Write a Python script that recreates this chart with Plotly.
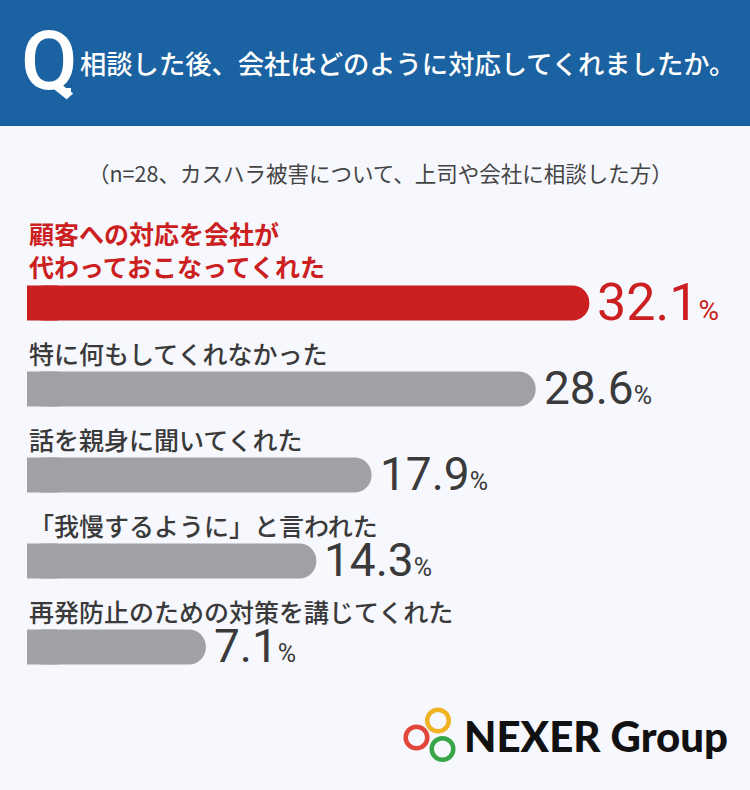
import plotly.graph_objects as go

# answers to "相談した後、会社はどのように対応してくれましたか。" (n=28)
answers = [
    "顧客への対応を会社が<br>代わっておこなってくれた",
    "特に何もしてくれなかった",
    "話を親身に聞いてくれた",
    "「我慢するように」と言われた",
    "再発防止のための対策を講じてくれた",
]
shares = [32.1, 28.6, 17.9, 14.3, 7.1]

title = "相談した後、会社はどのように対応してくれましたか。"
subtitle = "（n=28、カスハラ被害について、上司や会社に相談した方）"
logo_text = "NEXER Group"

RED = "#cc1f21"
GREY_BAR = "#a0a1a5"
GREY_TEXT = "#3a3a3a"
BLUE = "#1a62a1"
BG = "#f6f8fd"

W, H = 750, 790
L, R, T, B = 27, 0, 260, 87
PW, PH = W - L - R, H - T - B

# bars in the source don't start at zero, the axis is offset a bit
BAR_BASE = -4.56
X_MAX = BAR_BASE + PW / 15.34


def px_x(p):
    return (p - L) / PW


def px_y(p):
    return (H - B - p) / PH


bar_colors = [RED] + [GREY_BAR] * (len(shares) - 1)
text_colors = [RED] + [GREY_TEXT] * (len(shares) - 1)

fig = go.Figure()
# full bars from the offset start to the value (plotly rounds both ends when base is set)
fig.add_trace(go.Bar(
    x=[v - BAR_BASE for v in shares],
    base=BAR_BASE,
    y=answers,
    orientation="h",
    marker=dict(color=bar_colors, cornerradius=18, line=dict(width=0)),
    hoverinfo="skip",
))
# square stub on top to hide the rounding on the left end
fig.add_trace(go.Bar(
    x=[2] * len(shares),
    base=BAR_BASE,
    y=answers,
    orientation="h",
    marker=dict(color=bar_colors, line=dict(width=0)),
    hoverinfo="skip",
))

annotations = []
for i, (a, v) in enumerate(zip(answers, shares)):
    big = 52 if i == 0 else 46
    small = 28 if i == 0 else 25
    annotations.append(dict(
        x=v, y=a, xref="x", yref="y", xanchor="left", yanchor="middle",
        xshift=6, yshift=1, showarrow=False,
        text=f"{v}<span style='font-size:{small}px'>%</span>",
        font=dict(family="Roboto", size=big, color=text_colors[i]),
    ))
    annotations.append(dict(
        x=BAR_BASE, y=a, xref="x", yref="y", xanchor="left", yanchor="middle",
        yshift=54 if i == 0 else 36, showarrow=False, align="left",
        text=a,
        font=dict(family="Noto Sans CJK JP", size=25, color=text_colors[i],
                  weight="bold" if i == 0 else 500),
    ))

# header
annotations.append(dict(
    x=px_x(19), y=px_y(61), xref="paper", yref="paper", xanchor="left", yanchor="middle",
    showarrow=False, text="Q",
    font=dict(family="Roboto", size=82, color="white", weight=500),
))
annotations.append(dict(
    x=px_x(78), y=px_y(63), xref="paper", yref="paper", xanchor="left", yanchor="middle",
    showarrow=False, text=title,
    font=dict(family="Noto Sans CJK JP", size=26.3, color="white", weight=500),
))
annotations.append(dict(
    x=px_x(380), y=px_y(172), xref="paper", yref="paper", xanchor="center", yanchor="middle",
    showarrow=False, text=subtitle,
    font=dict(family="Noto Sans CJK JP", size=21.5, color="#444444"),
))
annotations.append(dict(
    x=px_x(462), y=px_y(736), xref="paper", yref="paper", xanchor="left", yanchor="middle",
    showarrow=False, text=logo_text,
    font=dict(family="Lato", size=42, color="#111111", weight=900),
))

shapes = [
    dict(type="rect", xref="paper", yref="paper", layer="below",
         x0=px_x(0), x1=px_x(W), y0=px_y(126), y1=px_y(0),
         fillcolor=BLUE, line=dict(width=0)),
    dict(type="rect", xref="paper", yref="paper",
         x0=px_x(64), x1=px_x(71), y0=px_y(95), y1=px_y(88),
         fillcolor="white", line=dict(width=0)),
]
rings = [(438, 720.5, "#f0b323"), (416.5, 737.5, "#e1463a"), (442.5, 749, "#38a648")]
for cx, cy, col in rings:
    r = 10.8
    shapes.append(dict(
        type="circle", xref="paper", yref="paper",
        x0=px_x(cx - r), x1=px_x(cx + r), y0=px_y(cy + r), y1=px_y(cy - r),
        line=dict(color=col, width=4.5),
    ))

fig.update_layout(
    width=W, height=H,
    margin=dict(l=L, r=R, t=T, b=B),
    paper_bgcolor=BG, plot_bgcolor=BG,
    barmode="overlay",
    bargap=0.594,
    showlegend=False,
    xaxis=dict(range=[BAR_BASE, X_MAX], visible=False, fixedrange=True),
    yaxis=dict(autorange="reversed", visible=False, fixedrange=True),
    annotations=annotations,
    shapes=shapes,
)

fig.write_html("out.html", config={"displayModeBar": False},
               post_script="document.body.style.margin='0';")
